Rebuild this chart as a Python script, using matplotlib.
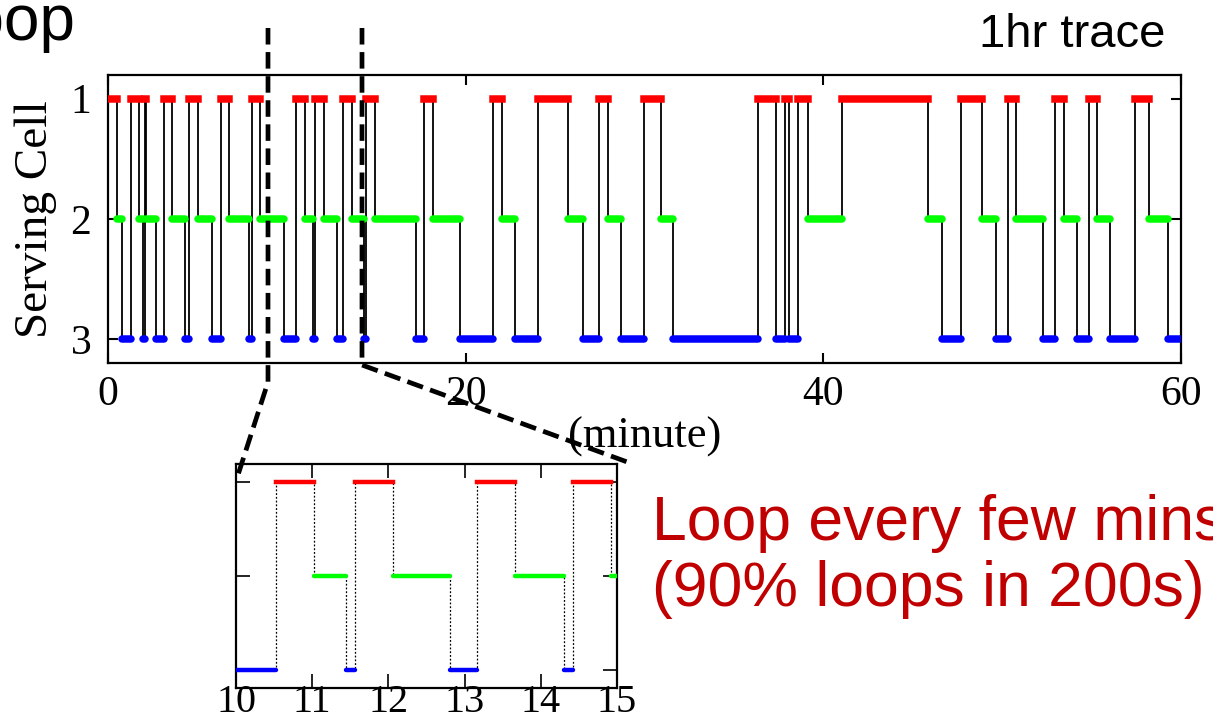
import matplotlib
matplotlib.use("Agg")
import matplotlib.pyplot as plt
from matplotlib.lines import Line2D

# start time (minute) of each serving-cell interval
switch_t = [0, 0.52, 0.76, 1.27, 1.73, 1.98, 2.05, 2.13, 2.68, 3.13, 3.56, 4.31,
            4.55, 5.05, 5.80, 6.30, 6.77, 7.90, 8.04, 8.50, 9.84,
            10.53, 11.03, 11.45, 11.56, 12.06, 12.81, 13.16, 13.66, 14.31, 14.42,
            14.92, 17.23, 17.69, 18.20, 19.69,
            21.51, 22.02, 22.76, 24.07, 25.75, 26.55, 27.48, 27.98, 28.69, 29.98,
            30.91, 31.62, 36.37, 37.34, 37.86, 38.09, 38.57, 39.17,
            41.03, 45.84, 46.66, 47.71, 48.86, 49.65, 50.30, 50.78, 52.31, 52.96,
            53.43, 54.18, 54.83, 55.33, 56.04, 57.40, 58.22, 59.27]
cells = [1, 2, 3, 1, 2, 3, 1, 2, 3, 1, 2, 3, 1, 2, 3, 1, 2, 3, 1, 2, 3,
         1, 2, 3, 1, 2, 3, 1, 2, 3, 1, 2, 3, 1, 2, 3,
         1, 2, 3, 1, 2, 3, 1, 2, 3, 1, 2, 3, 1, 3, 1, 3, 1, 2,
         1, 2, 3, 1, 2, 3, 1, 2, 3, 1, 2, 3, 1, 2, 3, 1, 2, 3]
end_t = 60

main_xticks = [0, 20, 40, 60]
cell_ticks = [1, 2, 3]
inset_xticks = [10, 11, 12, 13, 14, 15]
cell_colors = {1: "#ff0000", 2: "#00ff00", 3: "#0000ff"}
cell_caps = {1: "projecting", 2: "round", 3: "round"}

W, H = 1213, 720
serif = ["Liberation Serif", "DejaVu Serif"]
sans = ["Liberation Sans", "DejaVu Sans"]

fig = plt.figure(figsize=(W / 100, H / 100), dpi=100)


def fx(px):
    return px / W


def fy(py):
    return 1 - py / H


times = switch_t + [end_t]
levels = cells + [cells[-1]]
starts = switch_t
ends = switch_t[1:] + [end_t]


def draw_trace(ax, step_kw, seg_lw):
    ax.step(times, levels, where="post", zorder=2, **step_kw)
    for c in cell_ticks:
        x0 = [s for s, cc in zip(starts, cells) if cc == c]
        x1 = [e for e, cc in zip(ends, cells) if cc == c]
        ax.hlines([c] * len(x0), x0, x1, colors=cell_colors[c], lw=seg_lw,
                  capstyle=cell_caps[c], zorder=3)


# main 1hr trace
ax = fig.add_axes([fx(108), fy(363), fx(1181 - 108), (363 - 74.5) / H])
draw_trace(ax, dict(color="black", lw=1.3), 5.4)
ax.set_xlim(0, 60)
ax.set_ylim(3.2, 0.8)
ax.set_xticks(main_xticks)
ax.set_yticks(cell_ticks)
ax.tick_params(direction="in", length=7, width=1.5, top=True, right=True,
               labelsize=30, pad=9)
ax.tick_params(axis="y", pad=12)
for lab in ax.get_xticklabels() + ax.get_yticklabels():
    lab.set_family(serif)
for sp in ax.spines.values():
    sp.set_linewidth(1.6)
ax.set_xlabel("(minute)", family=serif, fontsize=32, labelpad=2)
ax.set_ylabel("Serving Cell", family=serif, fontsize=34, labelpad=10)

# zoomed inset 10-15 min
ins = fig.add_axes([fx(236), fy(688), fx(617 - 236), (688 - 464) / H])
draw_trace(ins, dict(color="black", lw=0.9, ls=(0, (1.5, 1.5))), 3.2)
ins.set_xlim(10, 15)
ins.set_ylim(3.195, 0.805)
ins.set_xticks(inset_xticks)
ins.set_yticks(cell_ticks)
ins.set_yticklabels([])
ins.tick_params(direction="in", length=10, width=1.2, top=True, right=True,
                labelsize=29, pad=-3)
for lab in ins.get_xticklabels():
    lab.set_family(serif)
for sp in ins.spines.values():
    sp.set_linewidth(1.6)

# dashed zoom guides
for path in ([(268, 28), (268, 382), (237, 478)],
             [(362, 28), (362, 365), (630, 463)]):
    fig.add_artist(Line2D([fx(p[0]) for p in path], [fy(p[1]) for p in path],
                          transform=fig.transFigure, color="black", lw=3.4,
                          dashes=(3.5, 1.6), zorder=5))

fig.text(fx(1165), fy(47), "1hr trace", ha="right", va="baseline",
         family=sans, fontsize=34)
fig.text(fx(76), fy(40), "Loop", ha="right", va="baseline",
         family=sans, fontsize=46)
fig.text(fx(652), fy(540), "Loop every few mins", ha="left", va="baseline",
         family=sans, fontsize=45, color="#c00000")
fig.text(fx(652), fy(606), "(90% loops in 200s)", ha="left", va="baseline",
         family=sans, fontsize=45, color="#c00000")

fig.savefig("out.png", dpi=100)
